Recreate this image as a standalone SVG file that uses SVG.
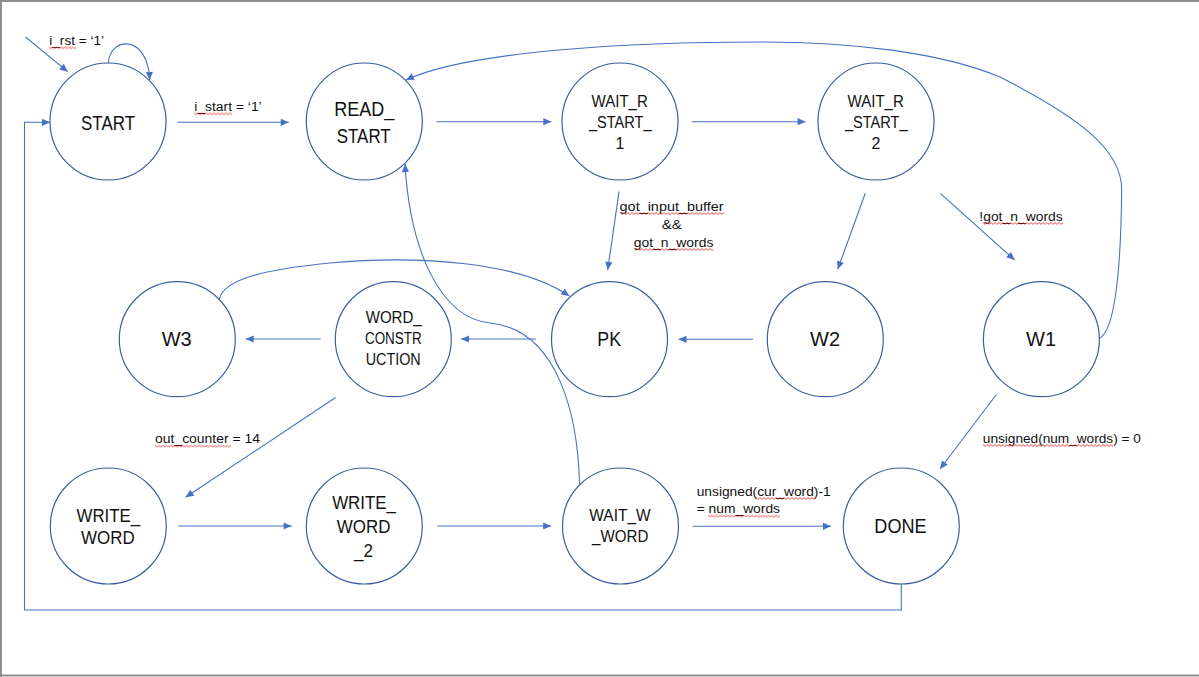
<svg xmlns="http://www.w3.org/2000/svg" width="1199" height="677" viewBox="0 0 1199 677">
<style>
.node{fill:#ffffff;stroke:#3b5f9e;stroke-width:1.2}
.big{font-family:"Liberation Sans",Arial,sans-serif;fill:#111;text-anchor:middle;lengthAdjust:spacingAndGlyphs}
.lbl{font-family:"Liberation Sans",Arial,sans-serif;fill:#111;font-size:12.5px}
.edge{fill:none;stroke:#4472C4;stroke-width:1.1}
.arr{marker-end:url(#ah)}
</style>
<defs>
<marker id="ah" viewBox="0 0 10 10" refX="10" refY="5" markerWidth="9" markerHeight="8" markerUnits="userSpaceOnUse" orient="auto">
<path d="M0,0.5 L10,5 L0,9.5 z" fill="#4472C4"/>
</marker>
<pattern id="wv" width="4" height="3" patternUnits="userSpaceOnUse">
<path d="M0,0.6 L2,2.4 L4,0.6" fill="none" stroke="#e02020" stroke-width="0.8"/>
</pattern>
</defs>
<rect x="0" y="0" width="1199" height="677" fill="#ffffff"/>
<path d="M1,677 L1,1 L1199,1 M0,675.5 L1199,675.5" fill="none" stroke="#8e8e8e" stroke-width="2"/>

<g id="connectors">
<path class="edge arr" d="M25.5,37 L67.7,71.7"/>
<path class="edge arr" d="M108.3,63.3 C110,36 148,34 149.7,80"/>
<path class="edge arr" d="M177.3,122.3 L288.7,122.3"/>
<path class="edge arr" d="M436.4,121.7 L551.3,121.7"/>
<path class="edge arr" d="M691.7,121.7 L805.6,121.7"/>
<path class="edge arr" d="M619,191.7 L607.7,270"/>
<path class="edge arr" d="M865.3,193.3 L837.7,269.3"/>
<path class="edge arr" d="M940.3,193.3 L1014.6,260"/>
<path class="edge arr" d="M753.2,339.3 L678.5,339.3"/>
<path class="edge arr" d="M536,339 L461,339"/>
<path class="edge arr" d="M320.7,339 L245.7,339"/>
<path class="edge arr" d="M219.3,299 C224,280 260,270 330,263 C420,255 520,262 569.3,296"/>
<path class="edge arr" d="M1100,338 C1116,328 1121,260 1121.7,190 C1122,150 1080,118 1000,77 C940,52 850,42 760,42 C640,42 470,50 406,80"/>
<path class="edge arr" d="M579.5,484 C578,420 560,330 490,323 C440,318 410,250 405,164"/>
<path class="edge arr" d="M335.6,397.5 L185.6,497.3"/>
<path class="edge arr" d="M178.3,526 L291.6,526"/>
<path class="edge arr" d="M437.4,526 L551.1,526"/>
<path class="edge arr" d="M692.7,526.3 L831,526.3"/>
<path class="edge arr" d="M996.4,394.5 L940,469"/>
<path class="edge arr" d="M901.3,584 L901.3,610 L24.5,610 L24.5,122.3 L50,122.3"/>
</g>

<g id="node-start">
<ellipse class="node" cx="108" cy="121.5" rx="58" ry="58.5"/>
<text class="big" x="108" y="130" font-size="21" textLength="54" lengthAdjust="spacingAndGlyphs">START</text>
</g>
<g id="node-read-start">
<ellipse class="node" cx="364.3" cy="121.5" rx="58" ry="58.5"/>
<text class="big" x="364.3" y="116" font-size="20" textLength="60" lengthAdjust="spacingAndGlyphs">READ_</text>
<text class="big" x="363.7" y="142.5" font-size="20" textLength="54" lengthAdjust="spacingAndGlyphs">START</text>
</g>
<g id="node-wait-r-start-1">
<ellipse class="node" cx="620" cy="121.5" rx="58" ry="58.5"/>
<text class="big" x="619.7" y="107.3" font-size="16" textLength="56.4" lengthAdjust="spacingAndGlyphs">WAIT_R</text>
<text class="big" x="620.2" y="128.3" font-size="16" textLength="62.6" lengthAdjust="spacingAndGlyphs">_START_</text>
<text class="big" x="620" y="149" font-size="16">1</text>
</g>
<g id="node-wait-r-start-2">
<ellipse class="node" cx="876" cy="121.5" rx="58" ry="58.5"/>
<text class="big" x="875.7" y="107.3" font-size="16" textLength="56.4" lengthAdjust="spacingAndGlyphs">WAIT_R</text>
<text class="big" x="876.2" y="128.3" font-size="16" textLength="62.6" lengthAdjust="spacingAndGlyphs">_START_</text>
<text class="big" x="876" y="149" font-size="16">2</text>
</g>
<g id="node-w3">
<ellipse class="node" cx="177.3" cy="339.2" rx="58" ry="57.5"/>
<text class="big" x="176.7" y="346" font-size="21" textLength="30" lengthAdjust="spacingAndGlyphs">W3</text>
</g>
<g id="node-word-construction">
<ellipse class="node" cx="393.3" cy="339.2" rx="58" ry="57.5"/>
<text class="big" x="393.7" y="323.3" font-size="16" textLength="56" lengthAdjust="spacingAndGlyphs">WORD_</text>
<text class="big" x="393.3" y="344" font-size="16" textLength="56.7" lengthAdjust="spacingAndGlyphs">CONSTR</text>
<text class="big" x="393.2" y="364.7" font-size="16" textLength="55" lengthAdjust="spacingAndGlyphs">UCTION</text>
</g>
<g id="node-pk">
<ellipse class="node" cx="609.5" cy="339.2" rx="58" ry="57.5"/>
<text class="big" x="609.2" y="345.7" font-size="21" textLength="23.7" lengthAdjust="spacingAndGlyphs">PK</text>
</g>
<g id="node-w2">
<ellipse class="node" cx="825.3" cy="339.2" rx="58" ry="57.5"/>
<text class="big" x="825" y="345.7" font-size="21" textLength="30" lengthAdjust="spacingAndGlyphs">W2</text>
</g>
<g id="node-w1">
<ellipse class="node" cx="1041.4" cy="339.2" rx="58" ry="57.5"/>
<text class="big" x="1041" y="345.7" font-size="21" textLength="30" lengthAdjust="spacingAndGlyphs">W1</text>
</g>
<g id="node-write-word">
<ellipse class="node" cx="108.3" cy="526" rx="58" ry="58"/>
<text class="big" x="108.3" y="521.7" font-size="19" textLength="63.5" lengthAdjust="spacingAndGlyphs">WRITE_</text>
<text class="big" x="107.9" y="544.3" font-size="19" textLength="53.6" lengthAdjust="spacingAndGlyphs">WORD</text>
</g>
<g id="node-write-word-2">
<ellipse class="node" cx="364.3" cy="526" rx="58" ry="58"/>
<text class="big" x="364.1" y="509" font-size="17.5" textLength="63.8" lengthAdjust="spacingAndGlyphs">WRITE_</text>
<text class="big" x="363.6" y="532.7" font-size="17.5" textLength="53.6" lengthAdjust="spacingAndGlyphs">WORD</text>
<text class="big" x="363.5" y="556.7" font-size="17.5" textLength="19" lengthAdjust="spacingAndGlyphs">_2</text>
</g>
<g id="node-wait-w-word">
<ellipse class="node" cx="620.5" cy="526" rx="58" ry="58"/>
<text class="big" x="620" y="521" font-size="17" textLength="61.3" lengthAdjust="spacingAndGlyphs">WAIT_W</text>
<text class="big" x="620.2" y="542" font-size="17" textLength="56.3" lengthAdjust="spacingAndGlyphs">_WORD</text>
</g>
<g id="node-done">
<ellipse class="node" cx="901.3" cy="526" rx="58" ry="58"/>
<text class="big" x="900.5" y="532.7" font-size="21" textLength="52.3" lengthAdjust="spacingAndGlyphs">DONE</text>
</g>

<g id="edge-labels">
<text class="lbl" x="49.3" y="45" textLength="54.7" lengthAdjust="spacingAndGlyphs">i_rst = ‘1’</text>
<text class="lbl" x="194.3" y="111" textLength="67.4" lengthAdjust="spacingAndGlyphs">i_start = ‘1’</text>
<text class="lbl" x="619.6" y="210.7" textLength="104" lengthAdjust="spacingAndGlyphs">got_input_buffer</text>
<text class="lbl" x="661.7" y="229" textLength="20" lengthAdjust="spacingAndGlyphs">&amp;&amp;</text>
<text class="lbl" x="633.8" y="246.7" textLength="79.6" lengthAdjust="spacingAndGlyphs">got_n_words</text>
<text class="lbl" x="979.3" y="220.7" textLength="83.4" lengthAdjust="spacingAndGlyphs">!got_n_words</text>
<text class="lbl" x="982.8" y="442.7" textLength="158" lengthAdjust="spacingAndGlyphs">unsigned(num_words) = 0</text>
<text class="lbl" x="155" y="443.3" textLength="105" lengthAdjust="spacingAndGlyphs">out_counter = 14</text>
<text class="lbl" x="696.7" y="495.7" textLength="134" lengthAdjust="spacingAndGlyphs">unsigned(cur_word)-1</text>
<text class="lbl" x="696.7" y="513.3" textLength="83.3" lengthAdjust="spacingAndGlyphs">= num_words</text>
</g>

<g id="spell-marks">
<g transform="translate(49,46.3)"><rect width="27" height="3" fill="url(#wv)"/></g>
<g transform="translate(194,112.3)"><rect width="38" height="3" fill="url(#wv)"/></g>
<g transform="translate(620,212)"><rect width="104" height="3" fill="url(#wv)"/></g>
<g transform="translate(634,248)"><rect width="79" height="3" fill="url(#wv)"/></g>
<g transform="translate(983,222)"><rect width="80" height="3" fill="url(#wv)"/></g>
<g transform="translate(983,444)"><rect width="130" height="3" fill="url(#wv)"/></g>
<g transform="translate(155,444.7)"><rect width="76" height="3" fill="url(#wv)"/></g>
<g transform="translate(756,497)"><rect width="60" height="3" fill="url(#wv)"/></g>
<g transform="translate(708,514.7)"><rect width="72" height="3" fill="url(#wv)"/></g>
</g>
</svg>
